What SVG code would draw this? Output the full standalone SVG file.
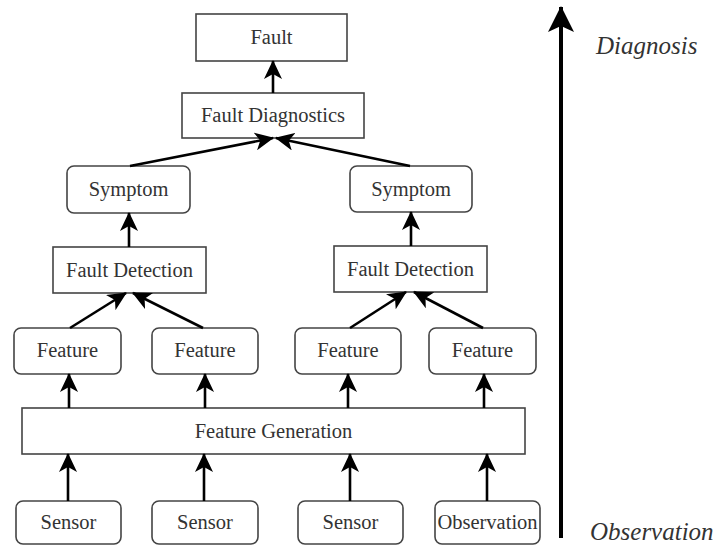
<svg xmlns="http://www.w3.org/2000/svg" width="717" height="545" viewBox="0 0 717 545">
<style>
.box{fill:#fff;stroke:#444;stroke-width:1.6}
.t{font-family:"Liberation Serif","Times New Roman",serif;font-size:20.5px;fill:#333;text-anchor:middle}
.it{font-family:"Liberation Serif","Times New Roman",serif;font-size:25px;font-style:italic;fill:#333}
.c{stroke:#000;stroke-width:2.6;fill:none;marker-end:url(#ah)}
</style>
<defs>
<marker id="ah" markerUnits="userSpaceOnUse" viewBox="0 0 19 18" refX="18" refY="9" markerWidth="19" markerHeight="18" orient="auto">
<path d="M0,0 L19,9 L0,18 L5,9 Z" fill="#000"/>
</marker>
<marker id="big" markerUnits="userSpaceOnUse" viewBox="0 0 26 26" refX="25" refY="13" markerWidth="26" markerHeight="26" orient="auto">
<path d="M0,0 L26,13 L0,26 L6,13 Z" fill="#000"/>
</marker>
</defs>
<rect width="717" height="545" fill="#fff"/>
<g id="fault"><rect class="box" x="196" y="14" width="151" height="47"/><text class="t" x="271.5" y="44">Fault</text></g>
<g id="fault-diagnostics"><rect class="box" x="182" y="93" width="182" height="45"/><text class="t" x="273" y="122">Fault Diagnostics</text></g>
<g id="symptom-1"><rect class="box" x="67" y="166" width="123" height="47" rx="7"/><text class="t" x="128.5" y="196">Symptom</text></g>
<g id="symptom-2"><rect class="box" x="350" y="166" width="122" height="46" rx="7"/><text class="t" x="411" y="196">Symptom</text></g>
<g id="fault-detection-1"><rect class="box" x="53" y="247" width="153" height="46"/><text class="t" x="129.5" y="277">Fault Detection</text></g>
<g id="fault-detection-2"><rect class="box" x="334" y="246" width="153" height="46"/><text class="t" x="410.5" y="276">Fault Detection</text></g>
<g id="feature-1"><rect class="box" x="14" y="328" width="107" height="46" rx="7"/><text class="t" x="67.5" y="357">Feature</text></g>
<g id="feature-2"><rect class="box" x="152" y="328" width="106" height="46" rx="7"/><text class="t" x="205" y="357">Feature</text></g>
<g id="feature-3"><rect class="box" x="295" y="328" width="106" height="46" rx="7"/><text class="t" x="348" y="357">Feature</text></g>
<g id="feature-4"><rect class="box" x="429" y="328" width="107" height="46" rx="7"/><text class="t" x="482.5" y="357">Feature</text></g>
<g id="feature-generation"><rect class="box" x="22" y="408" width="503" height="46"/><text class="t" x="273.5" y="438">Feature Generation</text></g>
<g id="sensor-1"><rect class="box" x="16" y="501" width="105" height="43" rx="7"/><text class="t" x="68.5" y="529">Sensor</text></g>
<g id="sensor-2"><rect class="box" x="152" y="501" width="106" height="43" rx="7"/><text class="t" x="205" y="529">Sensor</text></g>
<g id="sensor-3"><rect class="box" x="298" y="501" width="105" height="43" rx="7"/><text class="t" x="350.5" y="529">Sensor</text></g>
<g id="observation"><rect class="box" x="435" y="501" width="105" height="43" rx="7"/><text class="t" x="487.5" y="529">Observation</text></g>
<g id="axis">
<line x1="561" y1="538" x2="561" y2="7" stroke="#000" stroke-width="4" marker-end="url(#big)"/>
<text class="it" x="596" y="54">Diagnosis</text>
<text class="it" x="590" y="540">Observation</text>
</g>
<g id="connectors">
<line class="c" x1="273" y1="93" x2="273" y2="61"/>
<line class="c" x1="130" y1="166" x2="273" y2="138"/>
<line class="c" x1="410" y1="166" x2="276" y2="138"/>
<line class="c" x1="129" y1="247" x2="129" y2="213"/>
<line class="c" x1="411" y1="246" x2="411" y2="212"/>
<line class="c" x1="70" y1="328" x2="126" y2="293"/>
<line class="c" x1="203" y1="328" x2="133" y2="293"/>
<line class="c" x1="350" y1="328" x2="406" y2="292"/>
<line class="c" x1="483" y1="328" x2="414" y2="292"/>
<line class="c" x1="69" y1="408" x2="69" y2="374"/>
<line class="c" x1="205" y1="408" x2="205" y2="374"/>
<line class="c" x1="348" y1="408" x2="348" y2="374"/>
<line class="c" x1="484" y1="408" x2="484" y2="374"/>
<line class="c" x1="68" y1="501" x2="68" y2="454"/>
<line class="c" x1="204" y1="501" x2="204" y2="454"/>
<line class="c" x1="350" y1="501" x2="350" y2="454"/>
<line class="c" x1="487" y1="501" x2="487" y2="454"/>
</g>
</svg>
